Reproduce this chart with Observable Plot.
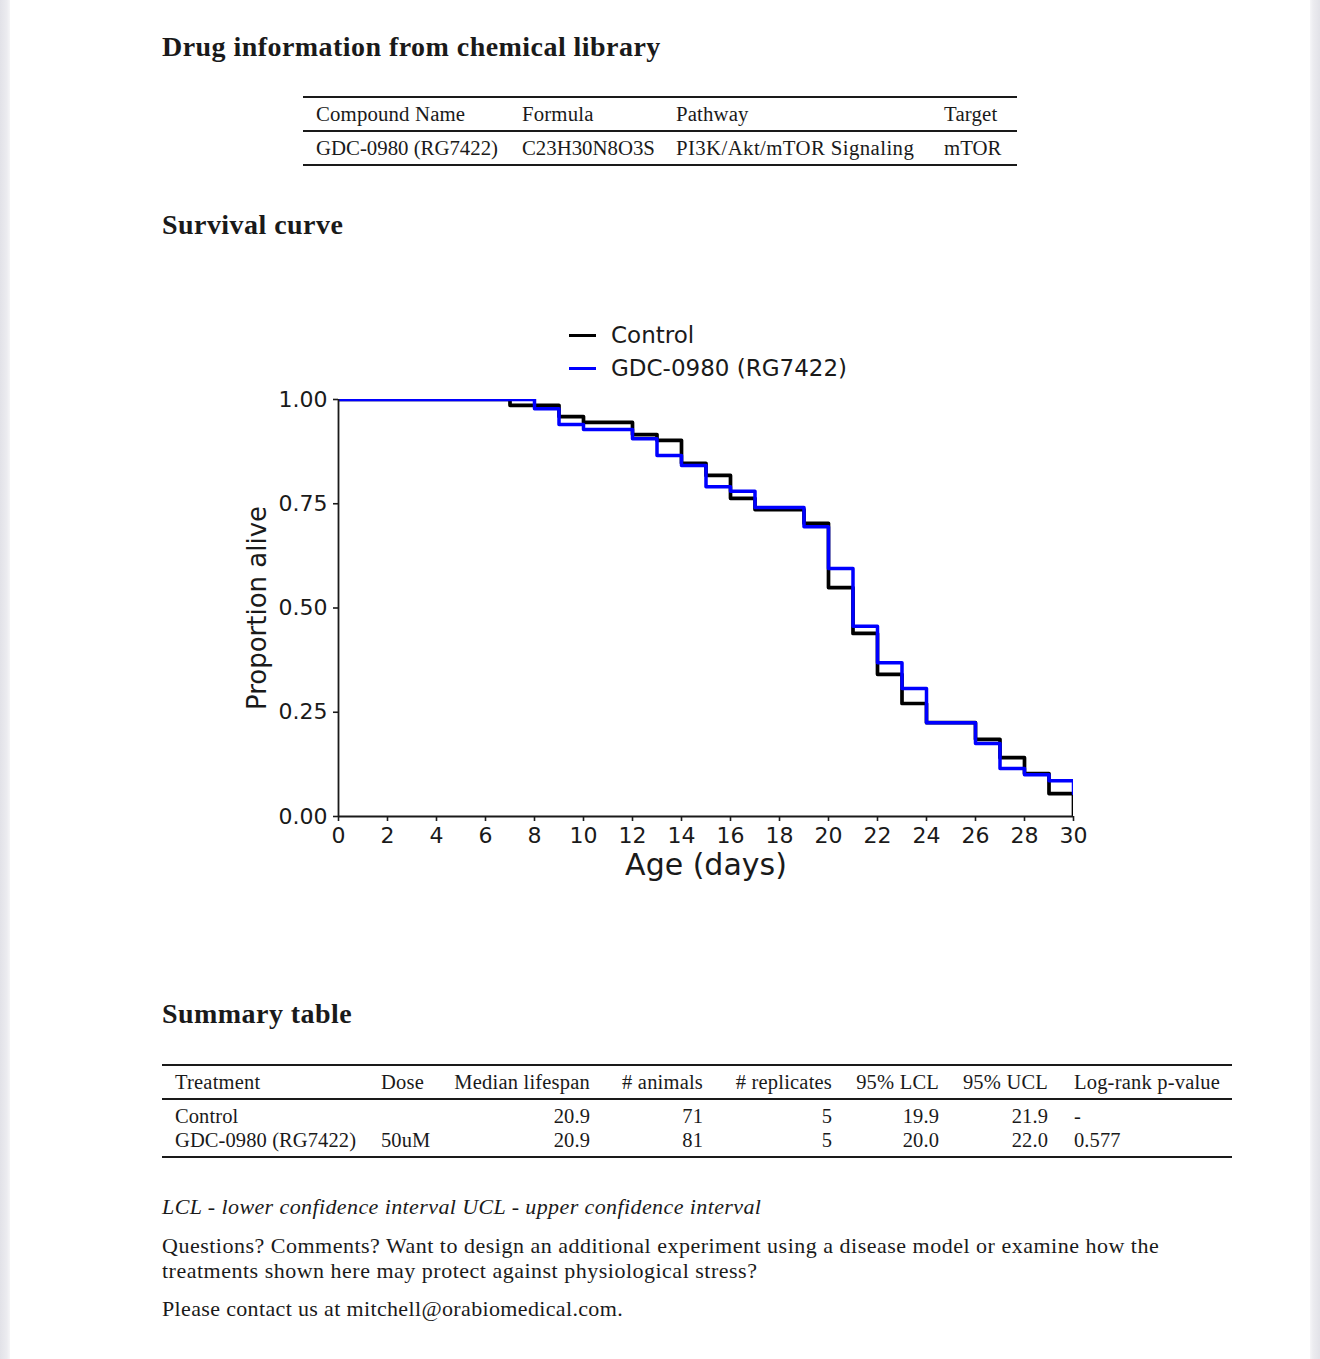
<!DOCTYPE html>
<html>
<head>
<meta charset="utf-8">
<script src="https://cdn.jsdelivr.net/npm/d3@7"></script>
<script src="https://cdn.jsdelivr.net/npm/@observablehq/plot@0.6"></script>
<style>
  html, body { margin: 0; padding: 0; background: #ffffff; }
  body { width: 1320px; height: 1359px; position: relative; overflow: hidden; }
  .strip-l { position: absolute; left: 0; top: 0; width: 10px; height: 1359px;
    background: linear-gradient(to right, #e2e2e8, #ececf0 70%, #f6f6f8); }
  .strip-r { position: absolute; left: 1310px; top: 0; width: 10px; height: 1359px;
    background: linear-gradient(to left, #e2e2e8, #ececf0 70%, #f6f6f8); }
  .t { position: absolute; white-space: nowrap; color: #1a1a1a; line-height: 1; }
  .rule { position: absolute; background: #1a1a1a; }
  #chart { position: absolute; left: 230px; top: 380px; }
</style>
</head>
<body>
<div class="strip-l"></div>
<div class="strip-r"></div>
<div id="chart"></div>
<script>
// ---------- data ----------
const days = [0, 7, 8, 9, 10, 12, 13, 14, 15, 16, 17, 19, 20, 21, 22, 23, 24, 26, 27, 28, 29, 30];
const controlSurv = [1, 0.986, 0.986, 0.959, 0.945, 0.916, 0.902, 0.847, 0.818, 0.763, 0.736, 0.703, 0.549, 0.439, 0.341, 0.271, 0.225, 0.185, 0.141, 0.103, 0.055, 0];
const gdcSurv = [1, 1, 0.978, 0.940, 0.928, 0.906, 0.866, 0.842, 0.791, 0.780, 0.741, 0.695, 0.595, 0.456, 0.369, 0.307, 0.225, 0.175, 0.115, 0.100, 0.086, 0.055];
const seriesNames = ["Control", "GDC-0980 (RG7422)"];
const seriesColors = ["#000000", "#0000ff"];
const xTicks = [0, 2, 4, 6, 8, 10, 12, 14, 16, 18, 20, 22, 24, 26, 28, 30];
const yTicks = [0, 0.25, 0.5, 0.75, 1];

const drugHeaders = ["Compound Name", "Formula", "Pathway", "Target"];
const drugRow = ["GDC-0980 (RG7422)", "C23H30N8O3S", "PI3K/Akt/mTOR Signaling", "mTOR"];

const summaryHeaders = ["Treatment", "Dose", "Median lifespan", "# animals", "# replicates", "95% LCL", "95% UCL", "Log-rank p-value"];
const summaryRows = [
  ["Control", "", "20.9", "71", "5", "19.9", "21.9", "-"],
  ["GDC-0980 (RG7422)", "50uM", "20.9", "81", "5", "20.0", "22.0", "0.577"]
];

const headings = ["Drug information from chemical library", "Survival curve", "Summary table"];
const noteText = "LCL - lower confidence interval UCL - upper confidence interval";
const questionLines = [
  "Questions? Comments? Want to design an additional experiment using a disease model or examine how the",
  "treatments shown here may protect against physiological stress?"
];
const contactText = "Please contact us at mitchell@orabiomedical.com.";

// ---------- text helpers ----------
const SERIF = "'Liberation Serif', 'Times New Roman', serif";
function place(text, x, baseline, size, opt = {}) {
  const el = document.createElement("div");
  el.className = "t";
  el.textContent = text;
  const fam = opt.family || SERIF;
  const ascentRatio = opt.family ? 0.846 : 0.8375;
  el.style.fontFamily = fam;
  el.style.fontSize = size + "px";
  if (opt.ls) el.style.letterSpacing = opt.ls + "px";
  if (opt.bold) el.style.fontWeight = "bold";
  if (opt.italic) el.style.fontStyle = "italic";
  el.style.left = x + "px";
  el.style.top = (baseline - ascentRatio * size) + "px";
  if (opt.right) el.style.transform = "translateX(-100%)";
  document.body.appendChild(el);
  return el;
}
function rule(x1, x2, y, w) {
  const el = document.createElement("div");
  el.className = "rule";
  el.style.left = x1 + "px";
  el.style.width = (x2 - x1) + "px";
  el.style.top = (y - w / 2) + "px";
  el.style.height = w + "px";
  document.body.appendChild(el);
}

// headings
place(headings[0], 162, 56, 28, {bold: true, ls: 0.45});
place(headings[1], 162, 234, 28, {bold: true, ls: 0.45});
place(headings[2], 162, 1023, 28, {bold: true, ls: 0.45});

// drug table
rule(303, 1017, 97, 2);
rule(303, 1017, 131, 1.2);
rule(303, 1017, 165, 2);
const drugCols = [316, 522, 676, 944];
drugHeaders.forEach((h, i) => place(h, drugCols[i], 121, 20.8, {ls: 0.15}));
drugRow.forEach((v, i) => place(v, drugCols[i], 155, 20.8, {ls: i === 2 ? 0.4 : 0.0}));

// summary table
rule(162, 1232, 1065, 2);
rule(162, 1232, 1099, 1.2);
rule(162, 1232, 1157, 2);
const sumCols = [
  {x: 175, right: false}, {x: 381, right: false}, {x: 590, right: true}, {x: 703, right: true},
  {x: 832, right: true}, {x: 939, right: true}, {x: 1048, right: true}, {x: 1074, right: false}
];
summaryHeaders.forEach((h, i) => place(h, sumCols[i].x, 1089, 20.5, {right: sumCols[i].right, ls: 0.2}));
summaryRows.forEach((row, r) => row.forEach((v, i) => {
  if (v !== "") place(v, sumCols[i].x, 1123 + r * 24, 20.5, {right: sumCols[i].right, ls: 0.1});
}));

// notes
place(noteText, 162, 1214, 22, {italic: true, ls: 0.4});
place(questionLines[0], 162, 1253, 22, {ls: 0.5});
place(questionLines[1], 162, 1278, 22, {ls: 0.5});
place(contactText, 162, 1316, 22, {ls: 0.35});

// legend (HTML)
const SANS = "'DejaVu Sans', sans-serif";
seriesNames.forEach((name, i) => {
  const yb = 343 + i * 33;
  const sw = document.createElement("div");
  sw.style.cssText = `position:absolute;left:569px;top:${yb - 9.5}px;width:27px;height:3.8px;background:${seriesColors[i]};`;
  document.body.appendChild(sw);
  place(name, 611, yb, 23, {family: SANS});
});

// ---------- chart ----------
const rows = [];
days.forEach((d, i) => {
  rows.push({day: d, surv: controlSurv[i], series: seriesNames[0]});
});
days.forEach((d, i) => {
  rows.push({day: d, surv: gdcSurv[i], series: seriesNames[1]});
});

const chart = Plot.plot({
  width: 870,
  height: 510,
  marginLeft: 108,
  marginRight: 27,
  marginTop: 19,
  marginBottom: 74,
  style: {fontFamily: "DejaVu Sans, sans-serif", fontSize: "22px", color: "#1a1a1a", background: "transparent", overflow: "visible"},
  x: {domain: [0, 30]},
  y: {domain: [0, 1]},
  marks: [
    Plot.line(rows.filter(r => r.series === seriesNames[0]), {x: "day", y: "surv", curve: "step-after", stroke: seriesColors[0], strokeWidth: 3.7, clip: true}),
    Plot.line(rows.filter(r => r.series === seriesNames[1]), {x: "day", y: "surv", curve: "step-after", stroke: seriesColors[1], strokeWidth: 3.5, clip: true}),
    Plot.ruleX([0], {stroke: "#1a1a1a", strokeWidth: 1.8}),
    Plot.ruleY([0], {stroke: "#1a1a1a", strokeWidth: 1.8}),
    Plot.axisX({ticks: xTicks, tickSize: 5, tickPadding: 6, tickFormat: d => String(d), label: null, strokeWidth: 1.6, stroke: "#1a1a1a"}),
    Plot.axisY({ticks: yTicks, tickSize: 5, tickPadding: 6, tickFormat: d => d.toFixed(2), label: null, strokeWidth: 1.6, stroke: "#1a1a1a"}),
    Plot.text(["Age (days)"], {frameAnchor: "bottom", dy: 49, text: d => d, fontSize: 30, lineAnchor: "middle", textAnchor: "middle", fill: "#1a1a1a"}),
    Plot.text(["Proportion alive"], {frameAnchor: "left", dx: -81, rotate: -90, text: d => d, fontSize: 26, lineAnchor: "middle", textAnchor: "middle", fill: "#1a1a1a"})
  ]
});
document.getElementById("chart").appendChild(chart);
</script>
</body>
</html>
